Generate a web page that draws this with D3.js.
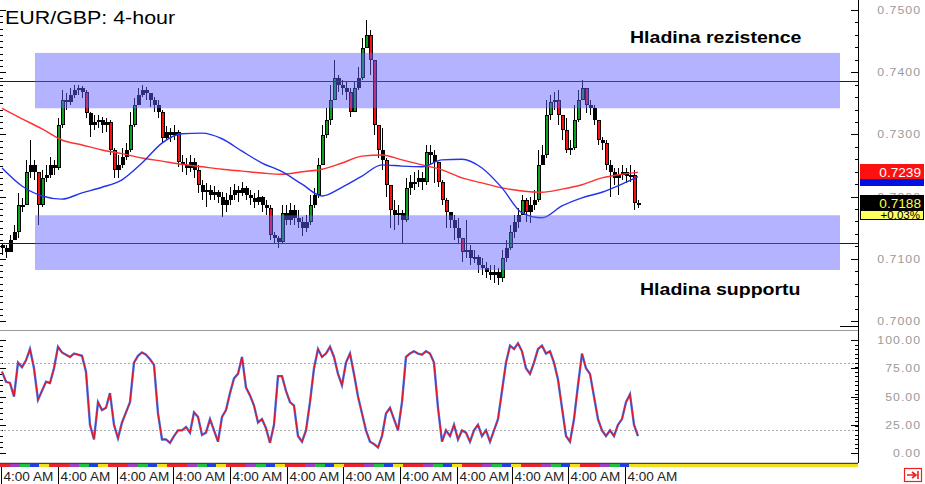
<!DOCTYPE html>
<html><head><meta charset="utf-8">
<script src="https://cdn.jsdelivr.net/npm/d3@7"></script>
<style>html,body{margin:0;padding:0;background:#fff;}svg{display:block;font-family:"Liberation Sans",Arial,sans-serif;}</style>
</head><body><svg id="c" width="925" height="484"></svg>
<script>
// ---------------- data ----------------
const title = "EUR/GBP: 4-hour";
const firstOpen = 0.7122;
const closes = [
0.7117,0.7111,0.7130,0.7143,0.7187,0.7187,0.7240,0.7251,0.7240,0.7187,
0.7230,0.7235,0.7251,0.7246,0.7315,0.7355,0.7352,0.7363,0.7371,0.7375,
0.7368,0.7334,0.7315,0.7320,0.7323,0.7315,0.7320,0.7275,0.7243,0.7251,
0.7264,0.7275,0.7315,0.7347,0.7363,0.7371,0.7367,0.7355,0.7347,0.7336,
0.7294,0.7304,0.7299,0.7304,0.7256,0.7251,0.7246,0.7256,0.7243,0.7219,
0.7207,0.7211,0.7203,0.7207,0.7199,0.7187,0.7195,0.7203,0.7211,0.7206,
0.7214,0.7203,0.7198,0.7191,0.7199,0.7187,0.7182,0.7138,0.7133,0.7127,
0.7174,0.7162,0.7178,0.7166,0.7159,0.7150,0.7159,0.7187,0.7203,0.7251,
0.7299,0.7323,0.7355,0.7391,0.7379,0.7375,0.7368,0.7336,0.7375,0.7391,
0.7439,0.7460,0.7420,0.7315,0.7275,0.7259,0.7219,0.7178,0.7170,0.7174,
0.7162,0.7214,0.7224,0.7224,0.7230,0.7224,0.7272,0.7267,0.7256,0.7224,
0.7195,0.7175,0.7162,0.7150,0.7133,0.7111,0.7114,0.7101,0.7103,0.7090,
0.7085,0.7079,0.7074,0.7079,0.7069,0.7101,0.7117,0.7143,0.7159,0.7170,
0.7195,0.7175,0.7187,0.7195,0.7251,0.7267,0.7331,0.7352,0.7355,0.7331,
0.7307,0.7275,0.7278,0.7323,0.7355,0.7375,0.7347,0.7342,0.7323,0.7291,
0.7286,0.7251,0.7240,0.7230,0.7235,0.7240,0.7233,0.7235,0.7190,0.7188];
const highs = [
0.7125,0.7122,0.7138,0.7154,0.7206,0.7198,0.7259,0.7291,0.7259,0.7224,
0.7243,0.7251,0.7264,0.7259,0.7326,0.7371,0.7367,0.7375,0.7379,0.7379,
0.7378,0.7371,0.7336,0.7331,0.7331,0.7328,0.7326,0.7323,0.7278,0.7267,
0.7278,0.7286,0.7336,0.7359,0.7375,0.7379,0.7376,0.7367,0.7360,0.7355,
0.7339,0.7314,0.7310,0.7315,0.7307,0.7267,0.7262,0.7267,0.7262,0.7251,
0.7227,0.7222,0.7219,0.7217,0.7211,0.7207,0.7206,0.7215,0.7220,0.7217,
0.7224,0.7217,0.7211,0.7206,0.7211,0.7201,0.7195,0.7187,0.7143,0.7137,
0.7187,0.7187,0.7190,0.7187,0.7178,0.7167,0.7170,0.7203,0.7214,0.7262,
0.7315,0.7342,0.7379,0.7420,0.7396,0.7387,0.7384,0.7375,0.7384,0.7408,
0.7455,0.7484,0.7468,0.7420,0.7307,0.7310,0.7262,0.7219,0.7195,0.7187,
0.7178,0.7230,0.7235,0.7240,0.7243,0.7240,0.7283,0.7283,0.7275,0.7243,
0.7227,0.7198,0.7175,0.7170,0.7166,0.7130,0.7162,0.7122,0.7114,0.7106,
0.7101,0.7095,0.7090,0.7090,0.7085,0.7114,0.7130,0.7154,0.7170,0.7182,
0.7203,0.7198,0.7199,0.7211,0.7275,0.7283,0.7355,0.7363,0.7368,0.7371,
0.7331,0.7326,0.7291,0.7347,0.7371,0.7387,0.7368,0.7355,0.7347,0.7323,
0.7296,0.7291,0.7259,0.7246,0.7246,0.7251,0.7246,0.7251,0.7243,0.7195];
const lows = [
0.7106,0.7101,0.7117,0.7130,0.7133,0.7175,0.7187,0.7230,0.7227,0.7154,
0.7183,0.7224,0.7230,0.7235,0.7243,0.7310,0.7339,0.7347,0.7359,0.7363,
0.7359,0.7326,0.7296,0.7307,0.7310,0.7302,0.7304,0.7267,0.7230,0.7230,
0.7246,0.7259,0.7272,0.7312,0.7352,0.7360,0.7355,0.7344,0.7336,0.7326,
0.7288,0.7291,0.7288,0.7291,0.7248,0.7240,0.7235,0.7240,0.7230,0.7206,
0.7195,0.7183,0.7195,0.7195,0.7190,0.7167,0.7175,0.7187,0.7195,0.7191,
0.7201,0.7195,0.7187,0.7182,0.7187,0.7175,0.7170,0.7130,0.7125,0.7117,
0.7125,0.7154,0.7154,0.7154,0.7150,0.7137,0.7143,0.7154,0.7182,0.7198,
0.7251,0.7294,0.7315,0.7355,0.7368,0.7363,0.7355,0.7328,0.7336,0.7371,
0.7387,0.7439,0.7395,0.7299,0.7262,0.7243,0.7199,0.7150,0.7146,0.7154,
0.7125,0.7159,0.7203,0.7211,0.7215,0.7211,0.7219,0.7251,0.7222,0.7215,
0.7187,0.7150,0.7150,0.7130,0.7125,0.7095,0.7101,0.7090,0.7093,0.7077,
0.7074,0.7069,0.7066,0.7061,0.7058,0.7063,0.7095,0.7114,0.7133,0.7150,
0.7170,0.7159,0.7158,0.7178,0.7191,0.7256,0.7262,0.7323,0.7339,0.7315,
0.7291,0.7270,0.7267,0.7275,0.7320,0.7355,0.7334,0.7331,0.7315,0.7283,
0.7275,0.7243,0.7199,0.7219,0.7203,0.7227,0.7222,0.7224,0.7178,0.7182];
const maIndex = [0,5,10,15,20,25,30,35,40,45,50,55,60,65,70,75,80,85,90,95,100,105,110,115,120,125,130,135,140,145,150,155,159];
const maSlow = [0.7342,0.7325,0.7309,0.7291,0.7283,0.7275,0.7269,0.7262,0.7257,0.7252,0.7248,0.7244,0.7241,0.7238,0.7236,0.7240,0.7244,0.7254,0.7265,0.7267,0.7259,0.7251,0.7243,0.7230,0.7222,0.7214,0.7209,0.7207,0.7212,0.7219,0.7230,0.7236,0.7239];
const maFast = [0.7246,0.7217,0.7201,0.7196,0.7206,0.7215,0.7227,0.7254,0.7286,0.7301,0.7302,0.7293,0.7273,0.7254,0.7240,0.7220,0.7201,0.7215,0.7233,0.7251,0.7249,0.7248,0.7259,0.7260,0.7246,0.7214,0.7174,0.7166,0.7185,0.7198,0.7207,0.7220,0.7232];
const stochK = [
72,63,62,50,80,76,82,92,75,47,
55,63,62,75,94,89,87,85,88,87,
86,72,25,12,45,38,40,53,25,13,
27,36,45,80,86,89,87,83,78,35,
12,12,9,15,20,20,23,18,36,32,
16,18,30,20,10,32,38,53,66,70,
85,58,51,42,27,30,22,9,25,68,
68,55,45,42,15,10,20,45,75,92,
85,88,94,85,70,60,80,88,70,50,
35,20,10,8,5,15,35,40,30,20,
45,85,88,90,88,87,90,88,80,40,
10,20,15,25,12,20,18,10,20,25,
15,20,10,20,30,55,80,95,92,97,
90,75,70,80,92,95,88,90,80,65,
40,15,10,30,60,88,75,70,50,30,
20,15,20,15,25,30,45,52,25,15];
const priceTicks = [0.70,0.71,0.72,0.73,0.74,0.75];
const stochTicks = [0,25,50,75,100];
const stochLevels = [20,80];
const resistanceZone = [0.7342,0.7431];
const supportZone = [0.7082,0.7170];
const zoneSpan = [8.25,209.5];
const resistanceLine = 0.7386;
const supportLine = 0.7125;
const zoneLabels = ["Hladina rezistence","Hladina supportu"];
const timeTickIndex = [-0.25,14,28.75,42.75,57,71.25,85.25,99.5,113.75,127.5,141.5,155.75];
const timeTickLabels = ["4:00 AM","4:00 AM","4:00 AM","4:00 AM","4:00 AM","4:00 AM","4:00 AM","4:00 AM","4:00 AM","4:00 AM","4:00 AM","4:00 AM"];
const stripColors = ["#e8242c","#a040c0","#20c040","#2040e0","#f0e020","#e8242c"];
const lastPrice = 0.7188;
const lastChange = "+0.03%";

// ---------------- drawing ----------------
const svg = d3.select("#c");
const axisX = 858;
const x = d3.scaleLinear().domain([0,159]).range([2,638]);
const y = d3.scaleLinear().domain([0.70,0.75]).range([321,10]);
const ys = d3.scaleLinear().domain([0,100]).range([453,340]);
const SX = 1.16;

const defs = svg.append("defs");
defs.append("clipPath").attr("id","mainClip").append("rect").attr("x",0).attr("y",0).attr("width",axisX).attr("height",330);
defs.append("clipPath").attr("id","blueClip").append("rect").attr("x",860).attr("y",179).attr("width",64).attr("height",7);

const main = svg.append("g").attr("clip-path","url(#mainClip)");

const n = Math.min(closes.length, highs.length, lows.length);
const candles = d3.range(n).map(i => {
  const o = i ? closes[i-1] : firstOpen, c = closes[i];
  return {i, o, c, h: Math.max(highs[i], o, c), l: Math.min(lows[i], o, c)};
});
const cg = main.append("g").attr("shape-rendering","crispEdges");
cg.selectAll(".wick").data(candles).join("rect")
  .attr("x", d => Math.round(x(d.i))).attr("width",1)
  .attr("y", d => y(d.h)).attr("height", d => Math.max(1, y(d.l)-y(d.h))).attr("fill","#000");
cg.selectAll(".body").data(candles).join("rect")
  .attr("x", d => Math.round(x(d.i))-1).attr("width",4)
  .attr("y", d => y(Math.max(d.o,d.c))).attr("height", d => Math.max(2, Math.abs(y(d.o)-y(d.c)))).attr("fill","#000");
cg.selectAll(".inner").data(candles.filter(d => Math.abs(y(d.o)-y(d.c)) > 12)).join("rect")
  .attr("x", d => Math.round(x(d.i))).attr("width",2)
  .attr("y", d => y(Math.max(d.o,d.c))+1).attr("height", d => Math.abs(y(d.o)-y(d.c))-2)
  .attr("fill", d => d.c >= d.o ? "#10a020" : "#ff1010");

const maLine = arr => d3.line().x((d,k)=>x(maIndex[k])).y(d=>y(d)).curve(d3.curveMonotoneX)(arr);
main.append("path").attr("d", maLine(maSlow)).attr("fill","none").attr("stroke","#ff3030").attr("stroke-width",1.4);
main.append("path").attr("d", maLine(maFast)).attr("fill","none").attr("stroke","#2233ee").attr("stroke-width",1.4);

// horizontal level lines
[resistanceLine, supportLine].forEach(v => {
  main.append("line").attr("x1",0).attr("x2",axisX).attr("y1",Math.round(y(v))+0.5).attr("y2",Math.round(y(v))+0.5)
    .attr("stroke","#1a1a3a").attr("stroke-width",1);
});
// zones
[resistanceZone, supportZone].forEach(z => {
  main.append("rect").attr("x", x(zoneSpan[0])).attr("width", x(zoneSpan[1])-x(zoneSpan[0]))
    .attr("y", y(z[1])).attr("height", y(z[0])-y(z[1]))
    .attr("fill","#6060ff").attr("fill-opacity",0.48);
});

// left ticks
const lt = svg.append("g").attr("shape-rendering","crispEdges").attr("stroke","#000");
d3.range(0.700,0.7505,0.001).forEach((v,k) => {
  const yy = Math.round(y(v))+0.5;
  lt.append("line").attr("x1",0).attr("x2", k%10===0?6:3).attr("y1",yy).attr("y2",yy);
});
d3.range(0,101,5).forEach(v => {
  const yy = Math.round(ys(v))+0.5;
  lt.append("line").attr("x1",0).attr("x2", v%25===0?6:3).attr("y1",yy).attr("y2",yy);
});

// panel divider
svg.append("line").attr("x1",0).attr("x2",axisX).attr("y1",330.5).attr("y2",330.5).attr("stroke","#999");
// stochastic level lines
stochLevels.forEach(v => {
  svg.append("line").attr("x1",0).attr("x2",axisX).attr("y1",Math.round(ys(v))+0.5).attr("y2",Math.round(ys(v))+0.5)
    .attr("stroke","#aaa").attr("stroke-dasharray","2,2");
});
// stochastic lines
const sl = d3.line().x((d,i)=>x(i)).y(d=>ys(d));
svg.append("path").attr("d", sl(stochK)).attr("fill","none").attr("stroke","#3a7cff").attr("stroke-width",2.4);
svg.append("path").attr("d", sl(stochK)).attr("fill","none").attr("stroke","#e8141c").attr("stroke-width",1.2);

// right axis
const ra = svg.append("g").attr("shape-rendering","crispEdges").attr("stroke","#000");
ra.append("line").attr("x1",axisX+0.5).attr("x2",axisX+0.5).attr("y1",0).attr("y2",463).attr("stroke-width",1.5);
ra.append("line").attr("x1",axisX-18).attr("x2",axisX).attr("y1",326.5).attr("y2",326.5);
d3.range(0.700,0.7505,0.002).forEach(v => {
  const yy = Math.round(y(v))+0.5;
  ra.append("line").attr("x1",axisX-3).attr("x2",axisX).attr("y1",yy).attr("y2",yy);
});
priceTicks.forEach(v => {
  const yy = Math.round(y(v))+0.5;
  ra.append("line").attr("x1",axisX-7).attr("x2",axisX).attr("y1",yy).attr("y2",yy);
});
d3.range(0,101,4).forEach(v => {
  const yy = Math.round(ys(v))+0.5;
  ra.append("line").attr("x1",axisX-3).attr("x2",axisX).attr("y1",yy).attr("y2",yy);
});
stochTicks.forEach(v => {
  const yy = Math.round(ys(v))+0.5;
  ra.append("line").attr("x1",axisX-7).attr("x2",axisX).attr("y1",yy).attr("y2",yy);
});
const axText = (tx, ty, s, fill, size, anchor, sx) =>
  svg.append("text").attr("transform",`translate(${tx},${ty}) scale(${sx||SX},1)`).attr("text-anchor",anchor||"end")
    .attr("font-size",size).attr("fill",fill).text(s);
priceTicks.forEach(v => axText(921, y(v)+4, d3.format(".4f")(v), "#9a9a9a", 11, "end", 1.12).attr("letter-spacing",0.9));
stochTicks.forEach(v => axText(921, ys(v)+4, d3.format(".2f")(v), "#9a9a9a", 11, "end", 1.12).attr("letter-spacing",0.9));

// price boxes
svg.append("rect").attr("x",860).attr("y",172).attr("width",64).attr("height",14).attr("fill","#0010e0");
axText(921, 187, d3.format(".4f")(maFast[maFast.length-1]), "#fff", 13, "end", 1.05).attr("clip-path","url(#blueClip)");
svg.append("rect").attr("x",860).attr("y",164).attr("width",64).attr("height",15).attr("fill","#ff1010");
axText(921, 176.5, d3.format(".4f")(maSlow[maSlow.length-1]), "#fff", 13, "end", 1.05);
svg.append("rect").attr("x",860.5).attr("y",195.5).attr("width",63).attr("height",15).attr("fill","#000").attr("stroke","#000");
axText(921, 207.5, d3.format(".4f")(lastPrice), "#ffff40", 13, "end", 1.05);
svg.append("rect").attr("x",860.5).attr("y",210.5).attr("width",63).attr("height",9).attr("fill","#ffff60").attr("stroke","#000");
axText(920, 218.5, lastChange, "#000", 11, "end", 1.05);

// x axis
svg.append("line").attr("x1",0).attr("x2",axisX).attr("y1",463.5).attr("y2",463.5).attr("stroke","#444").attr("stroke-width",1.5);
const segW = (x(timeTickIndex[2])-x(timeTickIndex[1]))/6;
const stripEnd = x(159);
const strip = svg.append("g").attr("shape-rendering","crispEdges");
for (let k = 0, xs = 0; xs < stripEnd; k++, xs += segW) {
  strip.append("rect").attr("x",xs).attr("y",464).attr("width",Math.min(segW, stripEnd-xs)+0.5).attr("height",3)
    .attr("fill", stripColors[k % stripColors.length]);
}
strip.append("rect").attr("x",stripEnd).attr("y",464).attr("width",axisX-stripEnd).attr("height",3).attr("fill","#f0e020");
timeTickIndex.forEach((t,k) => {
  const xx = Math.round(x(t))+0.5;
  svg.append("line").attr("x1",xx).attr("x2",xx).attr("y1",467).attr("y2",484).attr("stroke","#000").attr("shape-rendering","crispEdges");
  axText(xx+2, 481, timeTickLabels[k], "#222", 12, "start", 1.13);
});

// title and labels
axText(5, 24, title, "#000", 18, "start", 1.19);
axText(630, 43, zoneLabels[0], "#000", 17, "start", 1.15).attr("font-weight","bold");
axText(640, 295, zoneLabels[1], "#000", 17, "start", 1.15).attr("font-weight","bold");

// bottom-right icon
svg.append("rect").attr("x",904.5).attr("y",468.5).attr("width",17).attr("height",13).attr("fill","#fff").attr("stroke","#ee2020").attr("stroke-width",1.2);
svg.append("path").attr("d","M907,475 L915,475 M912,472 L916,475 L912,478 M918,471 L918,479").attr("stroke","#ee2020").attr("stroke-width",1.6).attr("fill","none");
</script></body></html>
